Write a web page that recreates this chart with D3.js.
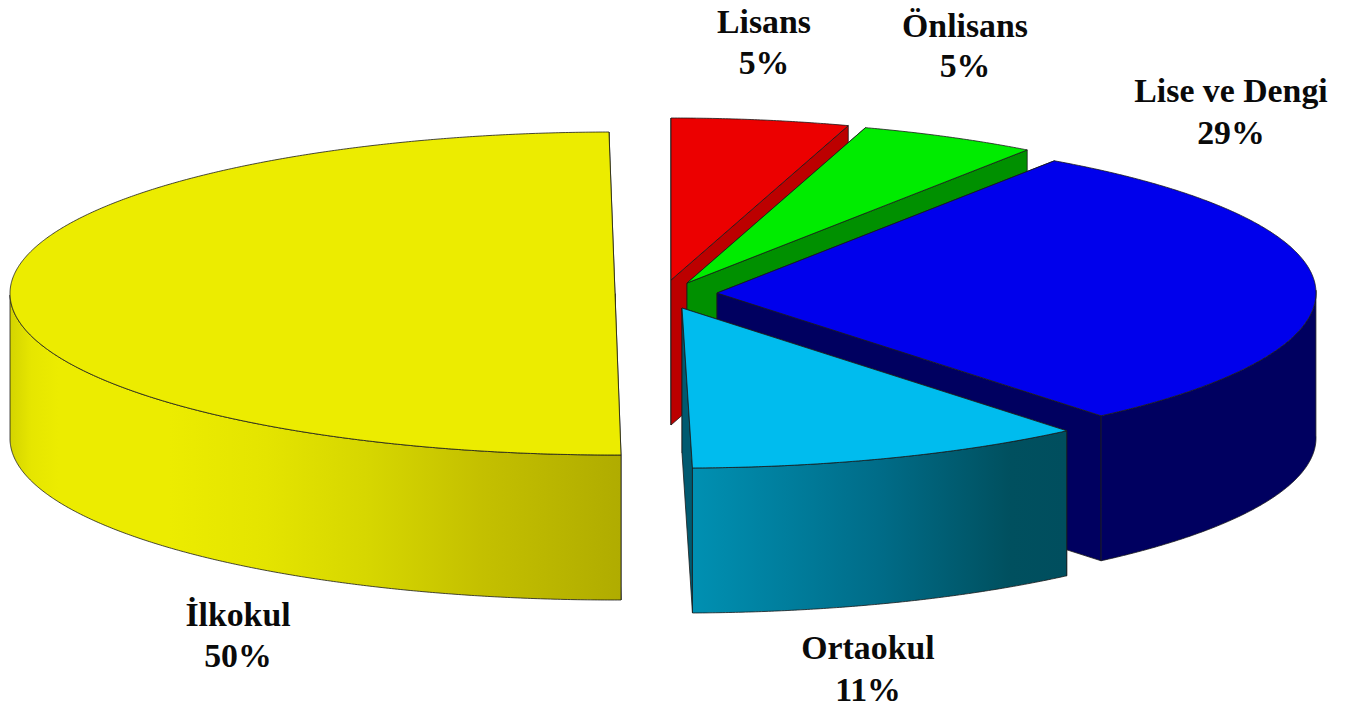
<!DOCTYPE html>
<html>
<head>
<meta charset="utf-8">
<script src="https://cdn.jsdelivr.net/npm/d3@7/dist/d3.min.js"></script>
<style>
html,body{margin:0;padding:0;background:#fff;overflow:hidden}
svg{display:block}
text{font-family:"Liberation Serif",serif;font-weight:700;font-size:33.8px;fill:#0a0a0a;text-anchor:middle}
</style>
</head>
<body>
<svg id="c" width="1356" height="709"></svg>
<script>
// Data, in clockwise order from twelve o'clock
const categories = ["Lisans", "Önlisans", "Lise ve Dengi", "Ortaokul", "İlkokul"];
const values = [4.9, 4.9, 29.4, 10.8, 50];
const percentLabels = ["5%", "5%", "29%", "11%", "50%"];
const topColors = ["#ec0000", "#00ec00", "#0000ec", "#00bcee", "#ecec00"];
const wallColors = ["#bc0000", "#009000", "#000060", "#005a70", "#ecec00"];

// Exploded-pie layout of each slice on the page (not data)
const apexX = [671, 687, 717, 682, 615];
const apexY = [280, 283, 293, 308, 293.5];
const radiusX = [585, 589, 599, 600, 605];
const radiusY = [162, 163, 160, 160, 161.5];
const phaseDeg = [0, 0, 1, 1, 0.57];
const depth = 145;
const labelX = [764, 965, 1231, 868, 238];
const labelY = [33, 37, 102, 659, 626];
const labelY2 = [74, 77, 144, 701, 667];

const svg = d3.select("#c");
const defs = svg.append("defs");

function grad(id, x1, x2, stops){
  const g = defs.append("linearGradient").attr("id", id)
    .attr("gradientUnits", "userSpaceOnUse")
    .attr("x1", x1).attr("x2", x2).attr("y1", 0).attr("y2", 0);
  stops.forEach(s => g.append("stop").attr("offset", s[0]).attr("stop-color", s[1]));
}
grad("wall3", 693, 1066, [[0, "#0090b2"], [0.5, "#006c88"], [0.85, "#00505f"], [1, "#004e5e"]]);
grad("wall4", 10, 621, [[0, "#d4d400"], [0.035, "#e6e600"], [0.08, "#ecec00"], [0.26, "#ecec00"], [0.42, "#e4e400"], [0.59, "#d6d600"], [0.77, "#c4c000"], [1, "#b0ac00"]]);
const outerFill = ["#bc0000", "#009000", "#000060", "url(#wall3)", "url(#wall4)"];

const pie = d3.pie().value(d => d).sort(null)
  .startAngle(0).endAngle(2 * Math.PI);
const arcs = pie(values);

const line = d3.line();
const HALF = Math.PI;

function project(i, a, z){
  const t = a - phaseDeg[i] * Math.PI / 180;
  return [apexX[i] + radiusX[i] * Math.sin(t),
          apexY[i] - radiusY[i] * Math.cos(t) + z];
}
function samples(a0, a1){
  const n = Math.max(2, Math.ceil(Math.abs(a1 - a0) * 180));
  return d3.range(n + 1).map(k => a0 + (a1 - a0) * k / n);
}
function radialWall(i, a){
  return line([[apexX[i], apexY[i]], project(i, a, 0), project(i, a, depth), [apexX[i], apexY[i] + depth]]) + "Z";
}
function outerWall(i, a0, a1){
  const t = samples(a0, a1);
  return line(t.map(a => project(i, a, 0)).concat(t.slice().reverse().map(a => project(i, a, depth)))) + "Z";
}
function topFace(i, a0, a1){
  return line([[apexX[i], apexY[i]]].concat(samples(a0, a1).map(a => project(i, a, 0)))) + "Z";
}

// Painter's order: yellow, red, green, blue, cyan
const order = [4, 0, 1, 2, 3];
const stroke = "#1a1a1a", sw = 0.8;
order.forEach(i => {
  const d = arcs[i];
  const g = svg.append("g").attr("class", "slice");
  [d.startAngle, d.endAngle].forEach(a => {
    g.append("path").attr("d", radialWall(i, a)).attr("fill", wallColors[i])
      .attr("stroke", stroke).attr("stroke-width", sw).attr("stroke-linejoin", "round");
  });
  const lo = Math.max(d.startAngle, HALF / 2), hi = Math.min(d.endAngle, HALF * 1.5);
  if (hi > lo) {
    g.append("path").attr("d", outerWall(i, lo, hi)).attr("fill", outerFill[i])
      .attr("stroke", stroke).attr("stroke-width", sw).attr("stroke-linejoin", "round");
  }
  g.append("path").attr("d", topFace(i, d.startAngle, d.endAngle)).attr("fill", topColors[i])
    .attr("stroke", stroke).attr("stroke-width", sw).attr("stroke-linejoin", "round");
});

const lab = svg.append("g").selectAll("g").data(categories).join("g");
lab.append("text").attr("x", (d, i) => labelX[i]).attr("y", (d, i) => labelY[i]).text(d => d);
lab.append("text").attr("x", (d, i) => labelX[i]).attr("y", (d, i) => labelY2[i]).text((d, i) => percentLabels[i]);
</script>
</body>
</html>
